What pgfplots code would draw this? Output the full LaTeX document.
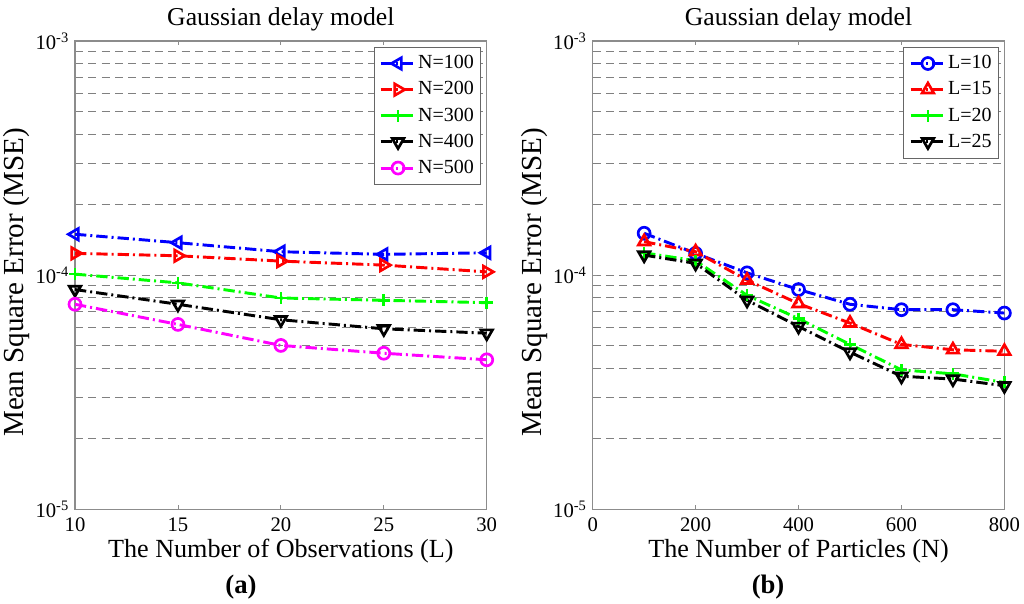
\documentclass[border=0pt]{standalone}
\usepackage{fontspec}
\setmainfont{Liberation Serif}
\usepackage{pgfplots}
\pgfplotsset{compat=1.18}
\definecolor{mblue}{RGB}{0,0,255}
\definecolor{mred}{RGB}{255,0,0}
\definecolor{mgreen}{RGB}{0,255,0}
\definecolor{mmag}{RGB}{255,0,255}
\pgfplotsset{every axis/.append style={
  scale only axis, width=308.8pt, height=351.2pt, clip=false,
  ymin=1e-5, ymax=1e-3,
  ytick={1e-5,1e-4,1e-3},
  yticklabels={10\textsuperscript{-5},10\textsuperscript{-4},10\textsuperscript{-3}},
  minor ytick={2e-5,3e-5,4e-5,5e-5,6e-5,7e-5,8e-5,9e-5,2e-4,3e-4,4e-4,5e-4,6e-4,7e-4,8e-4,9e-4},
  ymajorgrids, yminorgrids,
  major grid style={draw=black!50, dash pattern=on 6pt off 4pt, line width=0.6pt},
  minor grid style={draw=black!50, dash pattern=on 6pt off 4pt, line width=0.6pt},
  axis line style={draw=black!45, line width=0.8pt},
  tick style={draw=black!45, line width=0.6pt},
  tick align=inside, major tick length=3pt, minor tick length=0pt,
  xtick pos=both, ytick pos=left,
  /pgf/number format/assume math mode=true,
  tick label style={font=\fontsize{15.5}{18}\selectfont},
  xticklabel style={anchor=base, yshift=-16.8pt},
  yticklabel style={anchor=east, xshift=-1pt},
  title style={font=\fontsize{19.3}{23}\selectfont, at={(axis description cs:0.5,1)}, anchor=base, yshift=6pt},
  xlabel style={font=\fontsize{19.6}{23}\selectfont, at={(axis description cs:0.5,0)}, anchor=base, yshift=-36pt},
  ylabel style={font=\fontsize{21.8}{26}\selectfont, at={(axis description cs:-0.141,0.485)}, anchor=center},
  legend style={at={(axis description cs:0.986,0.987)}, anchor=north east, draw=black!60, line width=0.6pt,
     font=\fontsize{15}{18}\selectfont, row sep=3.6pt, inner sep=4pt,
     nodes={inner sep=1pt, text height=11pt, text depth=3pt}},
  legend cell align=left,
  legend image code/.code={\draw[#1, mark repeat=2, mark phase=2] plot coordinates {(0pt,0pt) (13pt,0pt) (26pt,0pt)};},
}}
\pgfplotsset{every axis plot/.append style={line width=2.2pt, dash pattern=on 8.5pt off 3pt on 1.5pt off 3pt}}
\begin{document}
\begin{tikzpicture}[x=1pt,y=1pt]
\useasboundingbox (0,0) rectangle (768,-452.25);
\begin{semilogyaxis}[at={(56.25pt,-30.75pt)}, anchor=north west,
  xmin=10, xmax=30, xtick={10,15,20,25,30},
  title={Gaussian delay model},
  xlabel={The Number of Observations (L)},
  ylabel={Mean Square Error (MSE)}]
\addplot[color=mblue, mark=triangle, mark size=5pt, mark options={solid, line width=2pt, rotate=90}] coordinates {(10,1.495e-4)(15,1.376e-4)(20,1.259e-4)(25,1.227e-4)(30,1.246e-4)};
\addlegendentry{N=100}
\addplot[color=mred, mark=triangle, mark size=5pt, mark options={solid, line width=2pt, rotate=-90}] coordinates {(10,1.239e-4)(15,1.21e-4)(20,1.148e-4)(25,1.104e-4)(30,1.033e-4)};
\addlegendentry{N=200}
\addplot[color=mgreen, mark=+, mark size=4.5pt, mark options={solid, line width=2pt}] coordinates {(10,1.01e-4)(15,9.27e-5)(20,7.99e-5)(25,7.81e-5)(30,7.63e-5)};
\addlegendentry{N=300}
\addplot[color=black, mark=triangle, mark size=5pt, mark options={solid, line width=2pt, rotate=180}] coordinates {(10,8.68e-5)(15,7.51e-5)(20,6.45e-5)(25,5.90e-5)(30,5.65e-5)};
\addlegendentry{N=400}
\addplot[color=mmag, mark=o, mark size=4.5pt, mark options={solid, line width=2pt}] coordinates {(10,7.51e-5)(15,6.16e-5)(20,5.01e-5)(25,4.64e-5)(30,4.35e-5)};
\addlegendentry{N=500}
\node[font=\fontsize{20}{24}\selectfont\bfseries] at (axis description cs:0.403,-0.166) {(a)};
\end{semilogyaxis}
\begin{semilogyaxis}[at={(444.5pt,-30.75pt)}, anchor=north west,
  xmin=0, xmax=800, xtick={0,200,400,600,800},
  title={Gaussian delay model},
  xlabel={The Number of Particles (N)},
  ylabel={Mean Square Error (MSE)}]
\addplot[color=mblue, mark=o, mark size=4.5pt, mark options={solid, line width=2pt}] coordinates {(100,1.51e-4)(200,1.239e-4)(300,1.023e-4)(400,8.68e-5)(500,7.51e-5)(600,7.12e-5)(700,7.12e-5)(800,6.89e-5)};
\addlegendentry{L=10}
\addplot[color=mred, mark=triangle, mark size=5pt, mark options={solid, line width=2pt}] coordinates {(100,1.39e-4)(200,1.259e-4)(300,9.52e-5)(400,7.56e-5)(500,6.24e-5)(600,5.06e-5)(700,4.80e-5)(800,4.73e-5)};
\addlegendentry{L=15}
\addplot[color=mgreen, mark=+, mark size=4.5pt, mark options={solid, line width=2pt}] coordinates {(100,1.246e-4)(200,1.152e-4)(300,8.2e-5)(400,6.52e-5)(500,5.06e-5)(600,3.94e-5)(700,3.79e-5)(800,3.48e-5)};
\addlegendentry{L=20}
\addplot[color=black, mark=triangle, mark size=5pt, mark options={solid, line width=2pt, rotate=180}] coordinates {(100,1.218e-4)(200,1.123e-4)(300,7.81e-5)(400,6.04e-5)(500,4.69e-5)(600,3.70e-5)(700,3.60e-5)(800,3.37e-5)};
\addlegendentry{L=25}
\node[font=\fontsize{20}{24}\selectfont\bfseries] at (axis description cs:0.426,-0.166) {(b)};
\end{semilogyaxis}
\end{tikzpicture}
\end{document}
